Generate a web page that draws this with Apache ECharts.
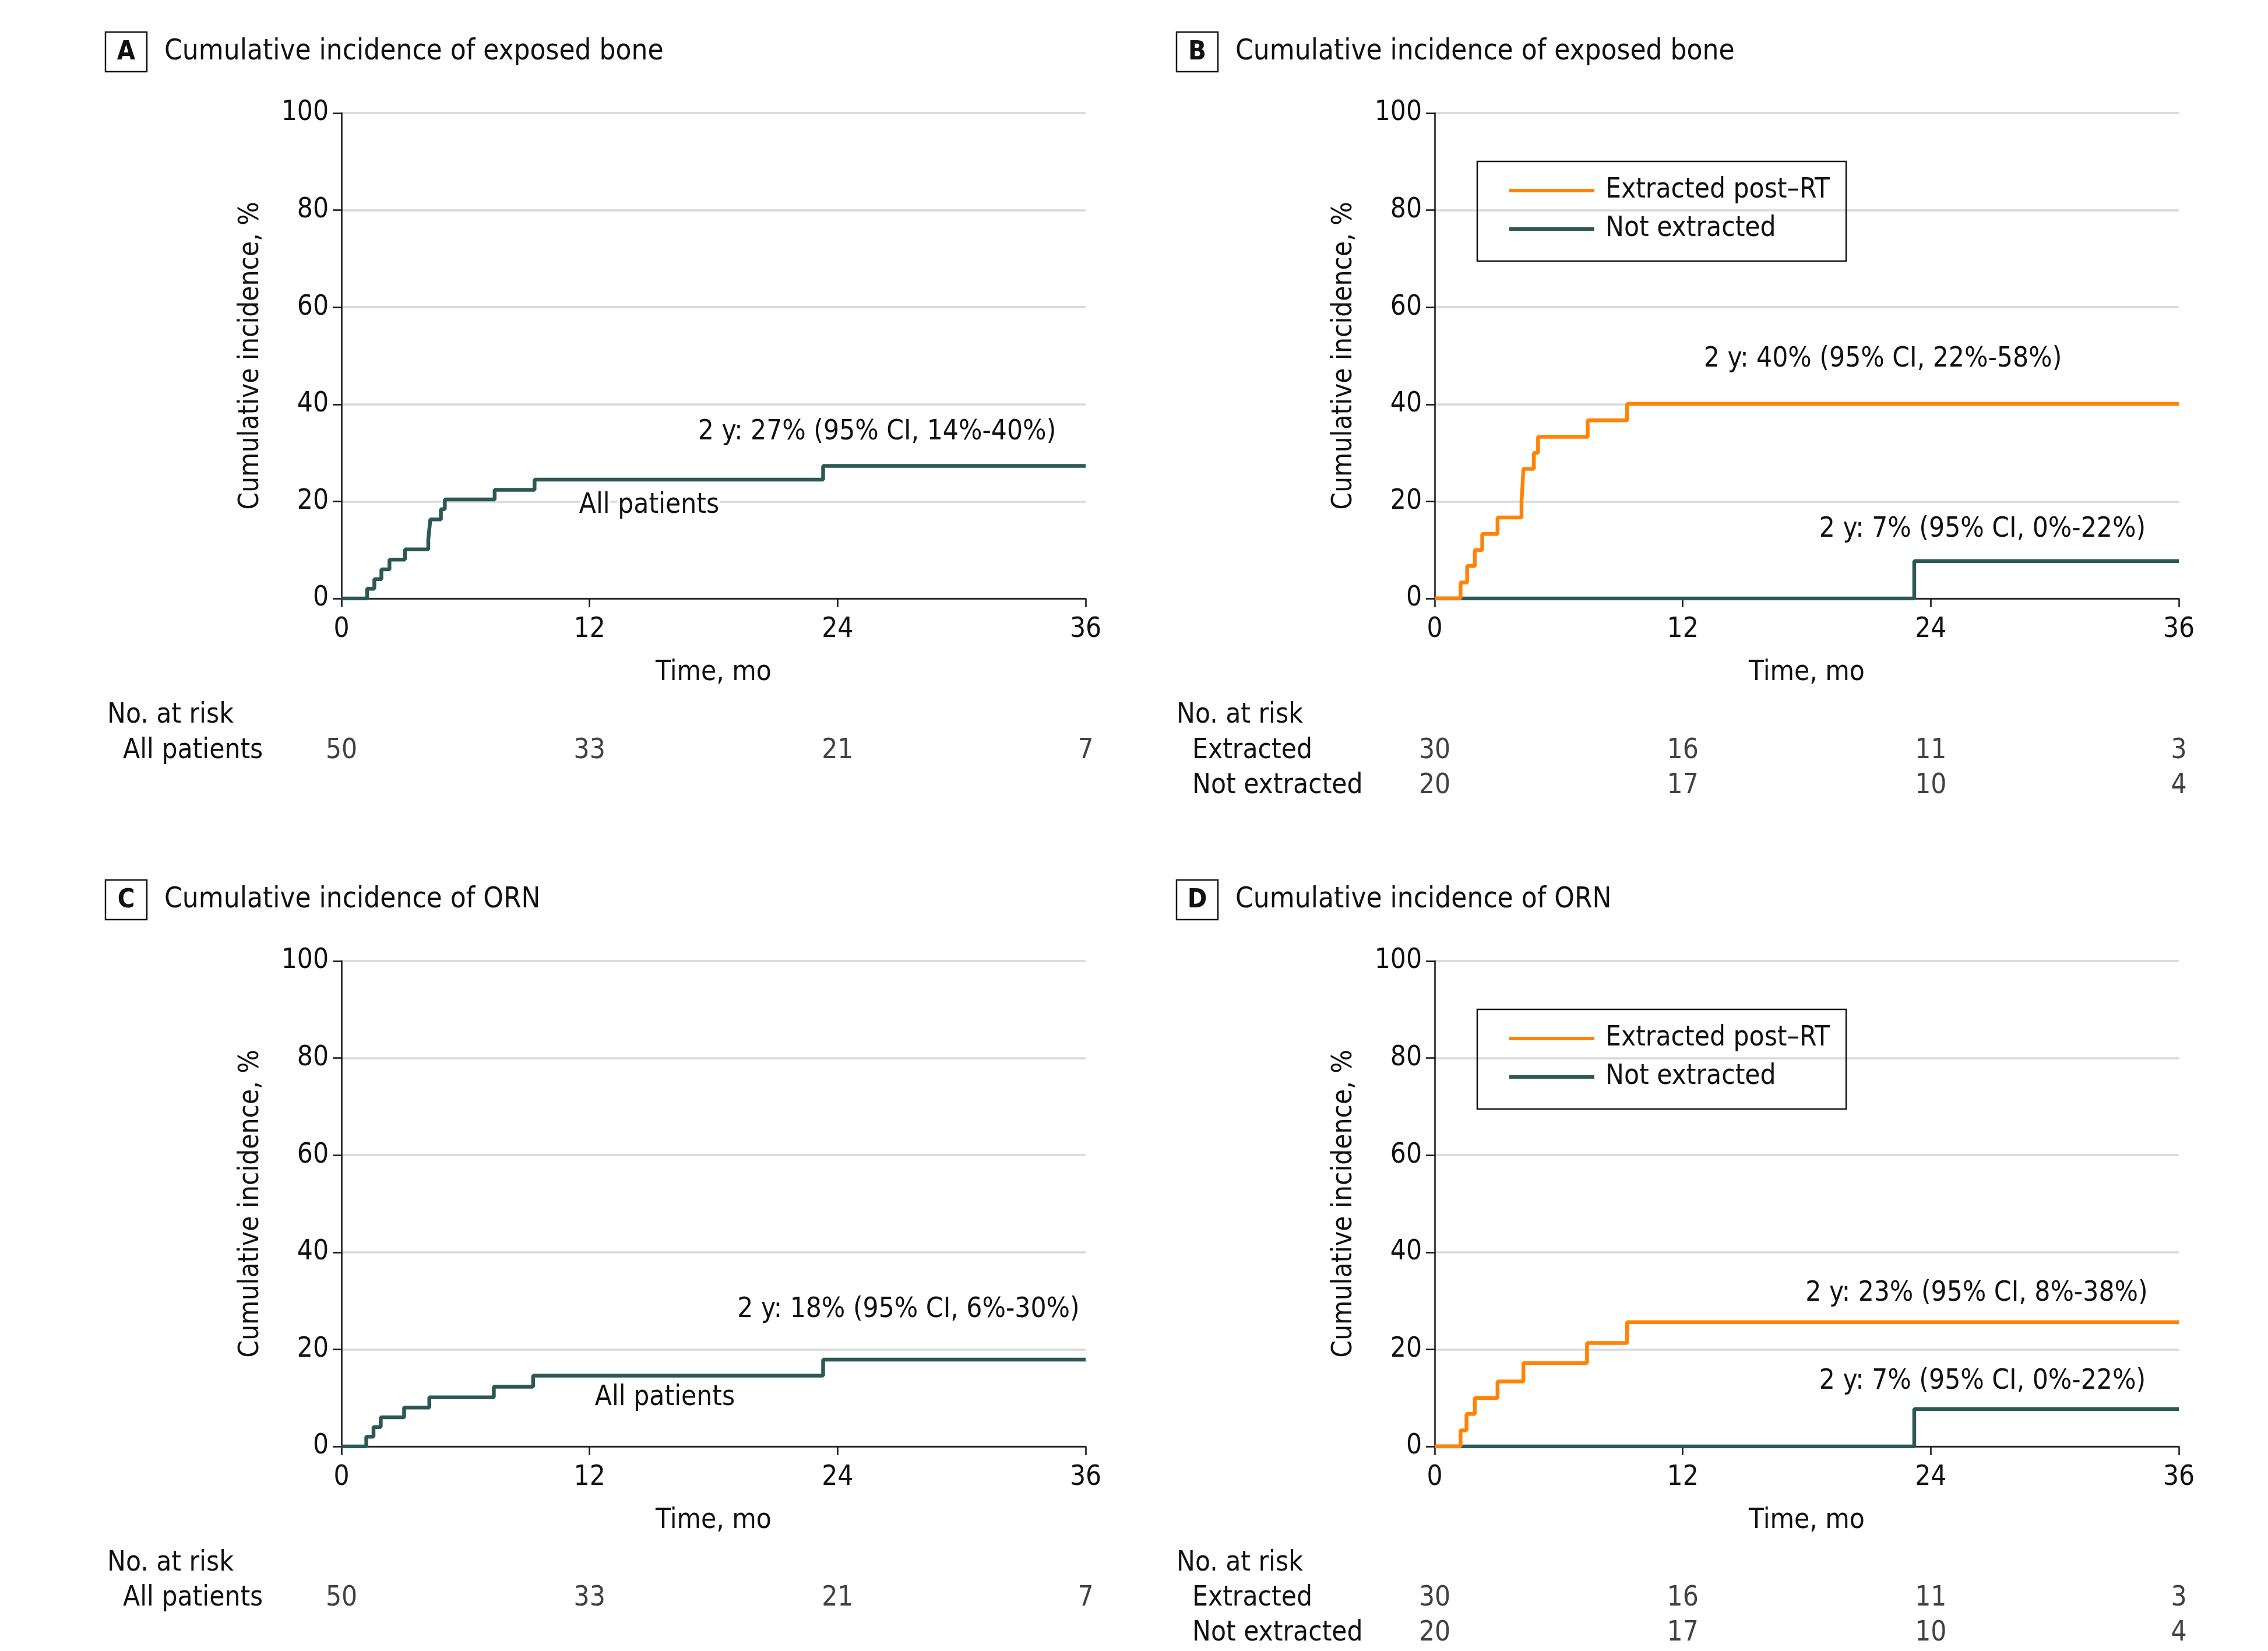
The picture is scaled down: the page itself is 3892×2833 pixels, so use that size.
<!DOCTYPE html>
<html><head><meta charset="utf-8">
<script src="https://cdn.jsdelivr.net/npm/echarts@6/dist/echarts.min.js"></script>
<style>html,body{margin:0;padding:0;background:#fff}#c{width:3892px;height:2833px}</style>
</head><body><div id="c"></div>
<script>
// ---------- data ----------
const xTickStep = 12;            // months between x ticks
const riskTimes = [0, 12, 24, 36];
const titleExposed = 'Cumulative incidence of exposed bone';
const titleORN = 'Cumulative incidence of ORN';
const seriesNames = ['Extracted post–RT', 'Not extracted'];

// Panel A: all patients, exposed bone
const aTime = [0, 1.24, 1.59, 1.93, 2.32, 3.07, 4.2, 4.25, 4.3, 4.81, 5.0, 7.41, 9.34, 23.3, 36];
const aInc  = [0, 2.0, 4.0, 6.0, 8.0, 10.1, 12.2, 14.3, 16.3, 18.4, 20.4, 22.4, 24.5, 27.3, 27.3];
// Panel B: exposed bone by extraction
const bExtTime = [0, 1.25, 1.57, 1.94, 2.3, 3.04, 4.2, 4.25, 4.29, 4.8, 5.0, 7.4, 9.31, 36];
const bExtInc  = [0, 3.3, 6.7, 10.0, 13.3, 16.7, 20.0, 23.3, 26.7, 30.0, 33.3, 36.7, 40.1, 40.1];
const bNotTime = [0, 23.2, 36];
const bNotInc  = [0, 7.7, 7.7];
// Panel C: all patients, ORN
const cTime = [0, 1.2, 1.55, 1.9, 3.03, 4.25, 7.37, 9.27, 23.3, 36];
const cInc  = [0, 2.0, 4.0, 6.0, 8.0, 10.1, 12.3, 14.6, 17.9, 17.9];
// Panel D: ORN by extraction
const dExtTime = [0, 1.25, 1.54, 1.94, 3.04, 4.29, 7.37, 9.31, 36];
const dExtInc  = [0, 3.3, 6.7, 10.0, 13.4, 17.2, 21.3, 25.6, 25.6];
const dNotTime = [0, 23.2, 36];
const dNotInc  = [0, 7.7, 7.7];

// Numbers at risk
const riskAll = [50, 33, 21, 7];
const riskExt = [30, 16, 11, 3];
const riskNot = [20, 17, 10, 4];

// annotation texts
const annA1 = '2 y: 27% (95% CI, 14%-40%)';
const annB1 = '2 y: 40% (95% CI, 22%-58%)';
const annB2 = '2 y: 7% (95% CI, 0%-22%)';
const annC1 = '2 y: 18% (95% CI, 6%-30%)';
const annD1 = '2 y: 23% (95% CI, 8%-38%)';
const annD2 = '2 y: 7% (95% CI, 0%-22%)';

// ---------- font selection ----------
const ctx = document.createElement('canvas').getContext('2d');
function w(font, t){ ctx.font = font; return ctx.measureText(t).width; }
function hasFont(n){
  const t = 'Cumulative incidence 0123';
  return w('100px monospace', t) !== w('100px "' + n + '", monospace', t) &&
         w('100px serif', t) !== w('100px "' + n + '", serif', t);
}
let FAM = 'Liberation Sans';
for (const f of ['Liberation Sans Narrow', 'DejaVu Sans Condensed', 'Liberation Sans']) {
  if (hasFont(f)) { FAM = f; break; }
}
const FONT = '"' + FAM + '", "Liberation Sans", Arial, sans-serif';
const samples = [titleExposed, 'No. at risk', 'All patients', 'Time, mo', annA1];
const targets = 856 + 209 + 234 + 206 + 594;
let s100 = 0; samples.forEach(t => s100 += w('100px ' + FONT, t));
const BASE = Math.round(100 * targets / s100 * 10) / 10;
const TITLE = Math.round(100 * 856 / w('100px ' + FONT, titleExposed) * 10) / 10;

// ---------- colors ----------
const GREEN = '#2b5855', ORANGE = '#ff8307', INK = '#111111', GRID = '#d9d9d9';

// ---------- layout ----------
const PW = 1277, PH = 833;
const plots = [
  {left: 586, top: 194}, {left: 2462, top: 194},
  {left: 586, top: 1649}, {left: 2462, top: 1649}
];
const risks = [
  {left: 586, top: 1259, height: 60, cats: ['All patients'], margin: 375},
  {left: 2462, top: 1259, height: 120, cats: ['Extracted', 'Not extracted'], margin: 416},
  {left: 586, top: 2713, height: 60, cats: ['All patients'], margin: 375},
  {left: 2462, top: 2713, height: 120, cats: ['Extracted', 'Not extracted'], margin: 416}
];

const grids = [], xAxes = [], yAxes = [], series = [];
plots.forEach(p => {
  grids.push({left: p.left, top: p.top, width: PW, height: PH, outerBoundsMode: 'none', containLabel: false});
  const gi = grids.length - 1;
  xAxes.push({
    gridIndex: gi, type: 'value', min: 0, max: 36, interval: xTickStep,
    name: 'Time, mo', nameLocation: 'middle', nameGap: 104,
    nameTextStyle: {color: INK, fontSize: BASE, fontFamily: FONT},
    axisLine: {show: true, lineStyle: {color: INK, width: 2.5}},
    axisTick: {show: true, length: 15, lineStyle: {color: INK, width: 2.5}},
    axisLabel: {color: INK, fontSize: BASE, fontFamily: FONT, margin: 30},
    splitLine: {show: false}
  });
  yAxes.push({
    gridIndex: gi, type: 'value', min: 0, max: 100, interval: 20,
    name: 'Cumulative incidence, %', nameLocation: 'middle', nameGap: 132,
    nameTextStyle: {color: INK, fontSize: BASE, fontFamily: FONT},
    axisLine: {show: true, onZero: false, lineStyle: {color: INK, width: 2.5}},
    axisTick: {show: true, length: 15, lineStyle: {color: INK, width: 2.5}},
    axisLabel: {color: INK, fontSize: BASE, fontFamily: FONT, margin: 22},
    splitLine: {show: true, lineStyle: {color: GRID, width: 3.5}}
  });
});
risks.forEach(r => {
  grids.push({left: r.left, top: r.top, width: PW, height: r.height, outerBoundsMode: 'none', containLabel: false});
  const gi = grids.length - 1;
  xAxes.push({gridIndex: gi, type: 'value', min: 0, max: 36, show: false});
  yAxes.push({
    gridIndex: gi, type: 'category', data: r.cats, inverse: true,
    axisLine: {show: false}, axisTick: {show: false}, splitLine: {show: false},
    axisLabel: {color: INK, fontSize: BASE, fontFamily: FONT, align: 'left', margin: r.margin, interval: 0, hideOverlap: false}
  });
});

function km(name, idx, t, v, color) {
  series.push({
    name, type: 'line', xAxisIndex: idx, yAxisIndex: idx, step: 'end',
    data: t.map((x, i) => [x, v[i]]), showSymbol: false, symbol: 'none',
    lineStyle: {color, width: 6.5}, itemStyle: {color}, silent: true, z: 3
  });
}
km('All patients', 0, aTime, aInc, GREEN);
km(seriesNames[1], 1, bNotTime, bNotInc, GREEN);
km(seriesNames[0], 1, bExtTime, bExtInc, ORANGE);
km('All patients', 2, cTime, cInc, GREEN);
km(seriesNames[1], 3, dNotTime, dNotInc, GREEN);
km(seriesNames[0], 3, dExtTime, dExtInc, ORANGE);

function riskSeries(idx, cat, vals) {
  series.push({
    type: 'scatter', xAxisIndex: idx, yAxisIndex: idx, symbolSize: 1,
    itemStyle: {color: 'rgba(0,0,0,0)'}, silent: true,
    data: riskTimes.map((t, i) => [t, cat, vals[i]]),
    label: {show: true, position: 'inside', formatter: p => String(p.value[2]),
            color: INK, fontSize: BASE, fontFamily: FONT}
  });
}
riskSeries(4, 'All patients', riskAll);
riskSeries(5, 'Extracted', riskExt);
riskSeries(5, 'Not extracted', riskNot);
riskSeries(6, 'All patients', riskAll);
riskSeries(7, 'Extracted', riskExt);
riskSeries(7, 'Not extracted', riskNot);

function legendAt(left, top) {
  return {
    data: seriesNames, orient: 'vertical', left, top, icon: 'rect',
    itemWidth: 146, itemHeight: 6, itemGap: 6,
    padding: [20, 28, 25, 55], borderColor: INK, borderWidth: 2.5, borderRadius: 0,
    selectedMode: false,
    textStyle: {color: INK, fontSize: BASE, fontFamily: FONT, lineHeight: 60, padding: [0, 0, 0, 14]}
  };
}

// graphic: panel labels, titles, annotations
const graphic = [];
function txt(text, x, y, align, size, halo) {
  const st = {text, fill: INK, fontSize: size || BASE, fontFamily: FONT, align: align || 'left', verticalAlign: 'middle'};
  if (halo) { st.stroke = '#ffffff'; st.lineWidth = 9; }
  graphic.push({type: 'text', x, y, silent: true, z: 10, style: st});
}
function panelLabel(letter, bx, by, title) {
  graphic.push({type: 'rect', x: bx, y: by, shape: {x: 0, y: 0, width: 71, height: 68},
    style: {fill: '#fff', stroke: INK, lineWidth: 2.5}, silent: true});
  graphic.push({type: 'text', x: bx + 35.5, y: by + 35, silent: true,
    style: {text: letter, fill: INK, fontSize: BASE * 0.95, fontWeight: 'bold', fontFamily: FONT, align: 'center', verticalAlign: 'middle'}});
  txt(title, bx + 101, by + 34, 'left', TITLE);
}
panelLabel('A', 181, 55, titleExposed);
panelLabel('B', 2019, 55, titleExposed);
panelLabel('C', 181, 1510, titleORN);
panelLabel('D', 2019, 1510, titleORN);

txt('No. at risk', 184, 1228);
txt('No. at risk', 2019, 1228);
txt('No. at risk', 184, 2683);
txt('No. at risk', 2019, 2683);

txt(annA1, 1505, 742, 'center', BASE, true);
txt('All patients', 1114, 868, 'center', BASE, true);
txt(annB1, 3231, 617, 'center', BASE, true);
txt(annB2, 3402, 909, 'center', BASE, true);
txt(annC1, 1559, 2248, 'center', BASE, true);
txt('All patients', 1141, 2399, 'center', BASE, true);
txt(annD1, 3392, 2220, 'center', BASE, true);
txt(annD2, 3402, 2371, 'center', BASE, true);

const chart = echarts.init(document.getElementById('c'), null, {renderer: 'canvas'});
chart.setOption({
  animation: false,
  backgroundColor: '#ffffff',
  textStyle: {fontFamily: FONT, fontSize: BASE, color: INK},
  grid: grids, xAxis: xAxes, yAxis: yAxes, series,
  legend: [legendAt(2535, 277), legendAt(2535, 1732)],
  graphic
});
</script></body></html>
